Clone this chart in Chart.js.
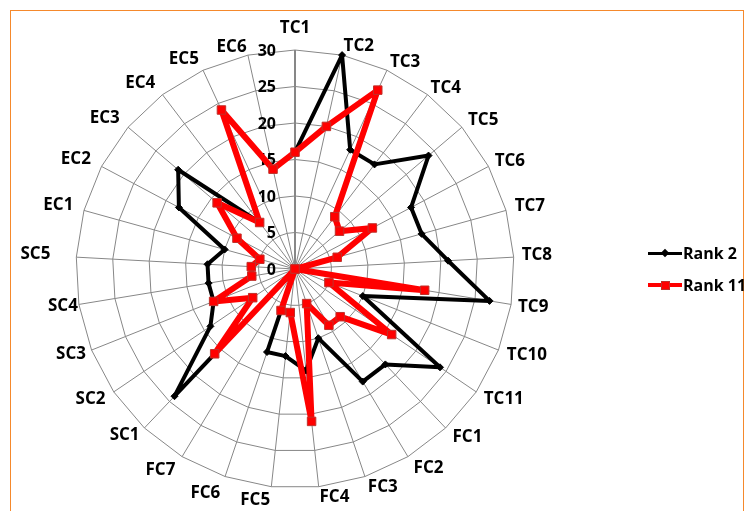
<!DOCTYPE html>
<html>
<head>
<meta charset="utf-8">
<script src="https://cdn.jsdelivr.net/npm/chart.js@4.4.0/dist/chart.umd.min.js"></script>
<style>
  html, body { margin: 0; padding: 0; background: #fff; }
  #wrap { position: relative; width: 745px; height: 511px; overflow: hidden; }
  #frame { position: absolute; left: 10px; top: 10px; width: 734px; height: 530px;
           border: 1.5px solid #f5892c; box-sizing: border-box; }
  #radar { position: absolute; left: 0; top: 0; }
  .key { position: absolute; left: 648px; height: 20px; font: bold 16px "Open Sans", Lato, sans-serif; color: #000; }
  .key .line { position: absolute; left: 0; width: 34px; }
  .key .mark { position: absolute; }
  .key .txt { position: absolute; left: 35px; top: 0; line-height: 20px; white-space: nowrap; }
</style>
</head>
<body>
<div id="wrap">
  <div id="frame"></div>
  <canvas id="radar" width="745" height="511"></canvas>
  <div id="legend"></div>
</div>
<script>
// Criteria around the radar, clockwise from the top
const categories = [
  'TC1', 'TC2', 'TC3', 'TC4', 'TC5', 'TC6', 'TC7', 'TC8', 'TC9', 'TC10', 'TC11',
  'FC1', 'FC2', 'FC3', 'FC4', 'FC5', 'FC6', 'FC7',
  'SC1', 'SC2', 'SC3', 'SC4', 'SC5',
  'EC1', 'EC2', 'EC3', 'EC4', 'EC5', 'EC6'
];

// Scores per criterion
const rank2 = [
  16, 30, 18, 18, 24, 18, 18, 21, 27, 10, 24,
  18, 18, 10, 14, 12, 12, 0,
  24, 14, 12, 12, 12,
  10, 18, 21, 8, 24, 14
];
const rank11 = [
  16, 20, 27, 9, 8, 12, 6, 0, 18, 5, 16,
  9, 9, 5, 21, 6, 6, 0,
  16, 7, 12, 6, 6,
  5, 9, 14, 8, 24, 14
];

// Value axis ticks
const axisTicks = [0, 5, 10, 15, 20, 25, 30];

// Radar geometry on the canvas
const RADAR = { cx: 295, cy: 269, r: 219 };

// Gap between the outer ring and each criterion label (layout only)
const labelGap = [
  20, 7, 7, 5, 8, 7, 9, 8, 7, 9, 9,
  10, 11, 9, 8, 11, 15, 13,
  7, 10, 6, 1, 26,
  11, 12, 11, 12, 10, 6
];

const GRID = '#878787';
const FONT = '"Open Sans", Lato, sans-serif';

// Keep the radar centred where the frame layout wants it
const RadialScale = Chart.RadialLinearScale || Chart.registry.getScale('radialLinear');
RadialScale.prototype.setCenterPoint = function () {
  this.xCenter = RADAR.cx;
  this.yCenter = RADAR.cy;
  this.drawingArea = RADAR.r;
};

// Value labels sit just left of the vertical axis
const tickText = {
  id: 'tickText',
  beforeDatasetsDraw(chart) {
    const s = chart.scales.r;
    const ctx = chart.ctx;
    ctx.save();
    ctx.font = 'bold 16px ' + FONT;
    ctx.fillStyle = '#000';
    ctx.textAlign = 'right';
    ctx.textBaseline = 'middle';
    axisTicks.forEach(v => {
      const d = s.getDistanceFromCenterForValue(v);
      ctx.fillText(String(v), s.xCenter - 19, s.yCenter - d + 1);
    });
    ctx.restore();
  }
};

const chart = new Chart(document.getElementById('radar'), {
  type: 'radar',
  data: {
    labels: categories,
    datasets: [
      {
        label: 'Rank 2',
        data: rank2,
        order: 2,               // underneath Rank 11
        borderColor: '#000000',
        borderWidth: 4,
        borderJoinStyle: 'round',
        pointStyle: 'rectRot',
        pointRadius: 3.5,
        pointBackgroundColor: '#000000',
        pointBorderColor: '#000000',
        pointBorderWidth: 1,
        fill: false
      },
      {
        label: 'Rank 11',
        data: rank11,
        order: 1,
        borderColor: '#ff0000',
        borderWidth: 6,
        borderJoinStyle: 'round',
        pointStyle: 'rect',
        pointRadius: 6,
        pointBackgroundColor: '#ff0000',
        pointBorderColor: '#c0302a',
        pointBorderWidth: 1,
        fill: false
      }
    ]
  },
  options: {
    responsive: false,
    animation: false,
    devicePixelRatio: 1,
    plugins: { legend: { display: false }, tooltip: { enabled: false } },
    elements: { line: { tension: 0 } },
    scales: {
      r: {
        min: axisTicks[0],
        max: axisTicks[axisTicks.length - 1],
        ticks: { stepSize: axisTicks[1] - axisTicks[0], display: false },
        grid: { color: GRID, lineWidth: 1, circular: false },
        angleLines: {
          color: GRID,
          lineWidth: c => (c.index === 0 ? 2 : 1)
        },
        pointLabels: {
          color: '#000',
          font: { family: FONT, size: 17, weight: 'bold', lineHeight: 0.24 },
          padding: c => labelGap[c.index]
        }
      }
    }
  },
  plugins: [tickText]
});

// Legend built from the dataset styles
const legend = document.getElementById('legend');
const keyTops = [243, 275];
const keyLine = [3, 4];
chart.data.datasets.forEach((ds, k) => {
  const item = document.createElement('div');
  item.className = 'key';
  item.style.top = keyTops[k] + 'px';
  const line = document.createElement('div');
  line.className = 'line';
  line.style.height = keyLine[k] + 'px';
  line.style.top = (10 - keyLine[k] / 2) + 'px';
  line.style.background = ds.borderColor;
  const mark = document.createElement('div');
  mark.className = 'mark';
  const size = ds.pointStyle === 'rect' ? 9 : 6;
  mark.style.width = size + 'px';
  mark.style.height = size + 'px';
  mark.style.left = (17 - size / 2) + 'px';
  mark.style.top = (10 - size / 2) + 'px';
  mark.style.background = ds.pointBackgroundColor;
  mark.style.boxSizing = 'border-box';
  if (ds.pointStyle === 'rect') {
    mark.style.border = '1px solid ' + ds.pointBorderColor;
  } else {
    mark.style.transform = 'rotate(45deg)';
  }
  const txt = document.createElement('div');
  txt.className = 'txt';
  txt.textContent = ds.label;
  item.appendChild(line);
  item.appendChild(mark);
  item.appendChild(txt);
  legend.appendChild(item);
});
</script>
</body>
</html>
